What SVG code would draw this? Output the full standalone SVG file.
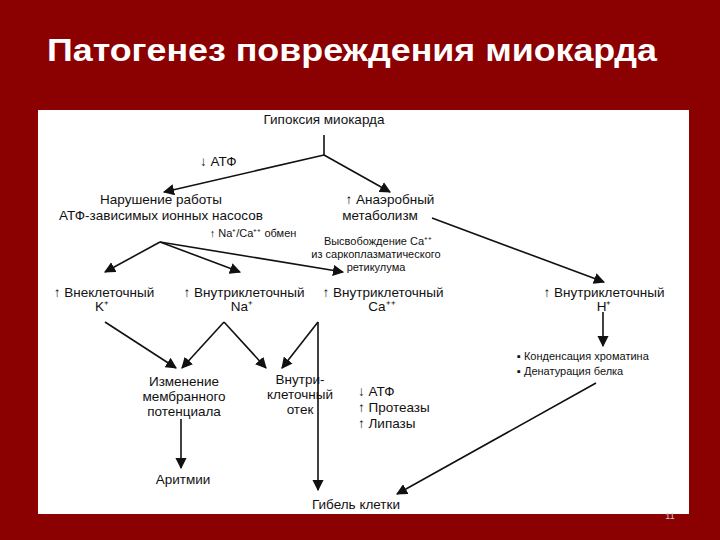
<svg xmlns="http://www.w3.org/2000/svg" width="720" height="540" viewBox="0 0 720 540">
<style>
text{font-family:"Liberation Sans",Arial,sans-serif;fill:#111;text-anchor:middle}
.n{font-size:13.5px}
.s{font-size:11px}
.c line,.c polyline{stroke:#111;stroke-width:1.6;fill:none}
</style>
<defs><marker id="a" viewBox="0 0 10 10" refX="9" refY="5" markerWidth="7" markerHeight="7" orient="auto"><path d="M0,0L10,5L0,10z" fill="#111"/></marker></defs>
<rect width="720" height="540" fill="#8b0000"/>
<text x="47" y="61" textLength="610" lengthAdjust="spacingAndGlyphs" style="font-size:31px;font-weight:bold;fill:#fff;text-anchor:start">Патогенез повреждения миокарда</text>
<rect x="38" y="110" width="651" height="404" fill="#fff"/>
<g class="c">
<polyline points="324,135 324,155"/>
<line x1="324" y1="155" x2="164" y2="192" marker-end="url(#a)"/>
<line x1="324" y1="155" x2="390" y2="192" marker-end="url(#a)"/>
<line x1="432" y1="218" x2="604" y2="282" marker-end="url(#a)"/>
<line x1="160" y1="242" x2="105" y2="272" marker-end="url(#a)"/>
<line x1="160" y1="242" x2="240" y2="272" marker-end="url(#a)"/>
<line x1="160" y1="242" x2="343" y2="272" marker-end="url(#a)"/>
<line x1="105" y1="322" x2="176" y2="368" marker-end="url(#a)"/>
<line x1="224" y1="322" x2="182" y2="368" marker-end="url(#a)"/>
<line x1="224" y1="322" x2="266" y2="368" marker-end="url(#a)"/>
<line x1="318" y1="322" x2="282" y2="368" marker-end="url(#a)"/>
<line x1="318" y1="322" x2="318" y2="490" marker-end="url(#a)"/>
<line x1="603" y1="312" x2="603" y2="346" marker-end="url(#a)"/>
<line x1="596" y1="383" x2="397" y2="494" marker-end="url(#a)"/>
<line x1="181" y1="419" x2="181" y2="468" marker-end="url(#a)"/>
</g>
<g id="n1"><text class="n" x="324" y="124">Гипоксия миокарда</text></g>
<g id="lbl1"><text class="n" x="200" y="166" style="text-anchor:start">↓ АТФ</text></g>
<g id="n2"><text class="n" x="161" y="204">Нарушение работы</text><text class="n" x="161" y="220">АТФ-зависимых ионных насосов</text></g>
<g id="n3"><text class="n" x="390" y="204">↑ Анаэробный</text><text class="n" x="380" y="220">метаболизм</text></g>
<g id="lbl2"><text class="s" x="253" y="237">↑ Na⁺/Ca⁺⁺ обмен</text></g>
<g id="lbl3"><text class="s" x="378" y="245">Высвобождение Ca⁺⁺</text><text class="s" x="376" y="258">из саркоплазматического</text><text class="s" x="376" y="271">ретикулума</text></g>
<g id="n4"><text class="n" x="104" y="297">↑ Внеклеточный</text><text class="n" x="102" y="311">K⁺</text></g>
<g id="n5"><text class="n" x="244" y="297">↑ Внутриклеточный</text><text class="n" x="242" y="311">Na⁺</text></g>
<g id="n6"><text class="n" x="383" y="297">↑ Внутриклеточный</text><text class="n" x="382" y="311">Ca⁺⁺</text></g>
<g id="n7"><text class="n" x="604" y="297">↑ Внутриклеточный</text><text class="n" x="604" y="311">H⁺</text></g>
<g id="n8"><text class="s" x="517" y="360" style="text-anchor:start">▪ Конденсация хроматина</text><text class="s" x="517" y="375" style="text-anchor:start">▪ Денатурация белка</text></g>
<g id="n9"><text class="n" x="184" y="386">Изменение</text><text class="n" x="184" y="401">мембранного</text><text class="n" x="184" y="416">потенциала</text></g>
<g id="n10"><text class="n" x="300" y="384">Внутри-</text><text class="n" x="300" y="399">клеточный</text><text class="n" x="300" y="414">отек</text></g>
<g id="n11"><text class="n" x="358" y="396" style="text-anchor:start">↓ АТФ</text><text class="n" x="358" y="412" style="text-anchor:start">↑ Протеазы</text><text class="n" x="358" y="428" style="text-anchor:start">↑ Липазы</text></g>
<g id="n12"><text class="n" x="183" y="484">Аритмии</text></g>
<g id="n13"><text class="n" x="356" y="509">Гибель клетки</text></g>
<text x="670" y="519" style="font-size:9px;fill:#ccc">11</text>
</svg>
